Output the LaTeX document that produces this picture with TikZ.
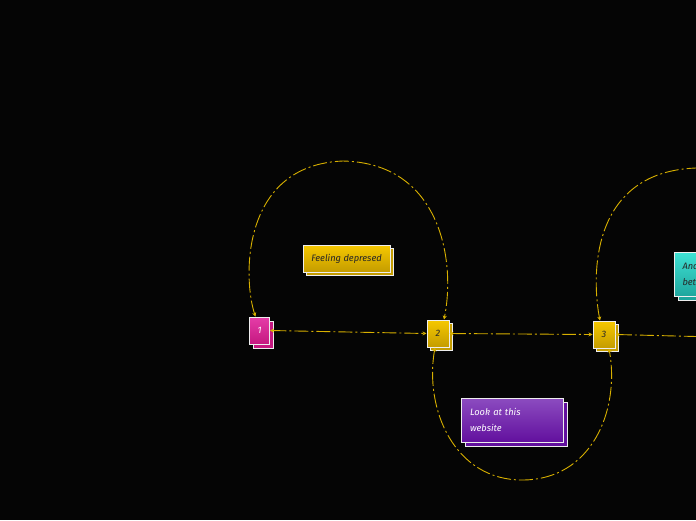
\documentclass[tikz,border=0pt]{standalone}
\usepackage{fontspec}
\setmainfont{Fira Sans}
\usetikzlibrary{arrows.meta,shadows}
\definecolor{bg}{HTML}{050505}
\definecolor{linec}{HTML}{D8B000}
\definecolor{pinkt}{HTML}{E53DA8}
\definecolor{pinkb}{HTML}{C51880}
\definecolor{yelt}{HTML}{F6C800}
\definecolor{yelb}{HTML}{C49C00}
\definecolor{purt}{HTML}{8C4CC0}
\definecolor{purb}{HTML}{62109E}
\definecolor{teat}{HTML}{3FE2D4}
\definecolor{teab}{HTML}{1FA69E}
\definecolor{edge}{HTML}{EEEEEE}
\tikzset{
  >={Stealth[length=4pt,width=4pt]},
  box/.style={draw=edge, line width=1pt, inner sep=0pt, font=\itshape\fontsize{9.3}{16}\selectfont, align=center},
  pinkbox/.style={box, top color=pinkt, bottom color=pinkb, text=white,
    general shadow={fill=pinkb, draw=edge, line width=1pt, shadow xshift=4pt, shadow yshift=-4pt}},
  yelbox/.style={box, top color=yelt, bottom color=yelb, text=black!85,
    general shadow={fill=yelb, draw=edge, line width=1pt, shadow xshift=3pt, shadow yshift=-3pt}},
  purbox/.style={box, top color=purt, bottom color=purb, text=white, align=left,
    general shadow={fill=purb, draw=edge, line width=1pt, shadow xshift=4pt, shadow yshift=-4pt}},
  teabox/.style={box, top color=teat, bottom color=teab, text=black!85, align=left,
    general shadow={fill=teab, draw=edge, line width=1pt, shadow xshift=4pt, shadow yshift=-4pt}},
  link/.style={draw=linec, line width=0.9pt, dash pattern=on 14pt off 3pt on 2pt off 3pt},
}
\begin{document}
\begin{tikzpicture}[x=1pt,y=-1pt]
\fill[bg] (0,0) rectangle (696,520);
\useasboundingbox (0,0) rectangle (696,520);
\clip (0,0) rectangle (696,520);
% nodes
\node[pinkbox, minimum width=20pt, minimum height=27pt] (n1) at (259.5,330.5) {1};
\node[yelbox, minimum width=22pt, minimum height=27pt] (n2) at (438,333.5) {2};
\node[yelbox, minimum width=22pt, minimum height=27pt] (n3) at (604,334.5) {3};
\node[yelbox, minimum width=87pt, minimum height=27pt] (fd) at (346.5,258.5) {Feeling depresed};
\node[purbox, minimum width=102pt, minimum height=44pt, text width=84pt] (lw) at (512,420) {Look at this\\website};
\node[teabox, minimum width=70pt, minimum height=44pt, text width=54pt, anchor=west] (tb) at (674,274) {And\\bet};
% connectors
\coordinate (e1) at (696,336.5);
\coordinate (top1) at (343,161);
\coordinate (bot2) at (522,480);
\coordinate (top3) at (696,168);
\draw[link, <->] (n1.east) -- (n2.west);
\draw[link, <->] (n2.east) -- (n3.west);
\draw[link, <-] (n3.east) -- (e1);
\draw[link, <->] ([xshift=-4pt]n1.north) .. controls (243,280) and (240,165) .. (top1)
   .. controls (440,163) and (456,260) .. ([xshift=6pt]n2.north);
\draw[link, <->] ([xshift=-3pt]n2.south) .. controls (424,410) and (455,480) .. (bot2)
   .. controls (592,480) and (620,410) .. ([xshift=5pt]n3.south);
\draw[link, <-] ([xshift=-4pt]n3.north) .. controls (592,280) and (588,172) .. (top3);
\end{tikzpicture}
\end{document}
